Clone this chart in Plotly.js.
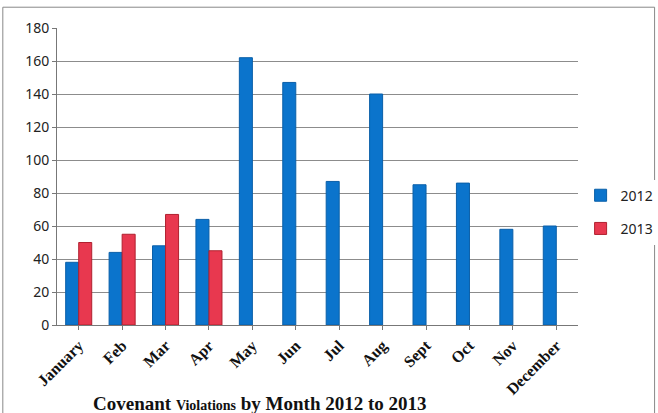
<!DOCTYPE html>
<html>
<head>
<meta charset="utf-8">
<script src="https://cdn.plot.ly/plotly-3.0.1.min.js"></script>
<style>html,body{margin:0;padding:0;background:#fff;}#chart{width:658px;height:413px;}</style>
</head>
<body>
<div id="chart"></div>
<script>
const months = ["January","Feb","Mar","Apr","May","Jun","Jul","Aug","Sept","Oct","Nov","December"];
const values2012 = [38,44,48,64,162,147,87,140,85,86,58,60];
const values2013 = [50,55,67,45,null,null,null,null,null,null,null,null];
const yTicks = [0,20,40,60,80,100,120,140,160,180];

const traces = [
  {type:"bar", name:"2012", x:months, y:values2012, legendgroup:"a",
   marker:{color:"#0b74cc", line:{color:"#0a5fa8", width:1}}},
  {type:"bar", name:"2013", x:months, y:values2013, legendgroup:"b",
   marker:{color:"#e8384f", line:{color:"#b0202f", width:1}}}
];

const layout = {
  width:658, height:413,
  margin:{l:57, r:80, t:28, b:88, autoexpand:false},
  paper_bgcolor:"#ffffff", plot_bgcolor:"#ffffff",
  barmode:"group", bargap:0.4, bargroupgap:0,
  showlegend:true,
  legend:{x:1.005, xanchor:"left", y:0.38, yanchor:"middle",
          font:{family:"Noto Sans, sans-serif", size:14, color:"#222"},
          traceorder:"grouped", tracegroupgap:12, itemwidth:30},
  xaxis:{type:"category", tickangle:-45, showgrid:false, automargin:false,
         showline:true, linecolor:"#777", linewidth:1,
         ticks:"outside", ticklen:4, tickcolor:"#777",
         tickfont:{family:"Liberation Serif, serif", size:16, color:"#111", weight:"bold"}},
  yaxis:{range:[0,180], tickvals:yTicks, showgrid:true, gridcolor:"#8c8c8c", gridwidth:1,
         showline:true, linecolor:"#777", linewidth:1, ticks:"outside", ticklen:4, tickcolor:"#777",
         zeroline:false, automargin:false,
         tickfont:{family:"Noto Sans, sans-serif", size:14, color:"#222"}},
  annotations:[
    {xref:"paper", yref:"paper", x:0.39, y:-0.263, xanchor:"center", yanchor:"middle", showarrow:false,
     text:"<b>Covenant <span style='font-size:14px'>Violations</span> by Month 2012 to 2013</b>",
     font:{family:"Liberation Serif, serif", size:19, color:"#111"}}
  ],
  shapes:[
    {type:"rect", xref:"paper", yref:"paper", x0:-0.104, x1:1.147, y0:-0.3, y1:1.07,
     line:{color:"#888", width:1}, fillcolor:"rgba(0,0,0,0)", layer:"below"}
  ]
};

Plotly.newPlot("chart", traces, layout, {displayModeBar:false, staticPlot:true});
</script>
</body>
</html>
